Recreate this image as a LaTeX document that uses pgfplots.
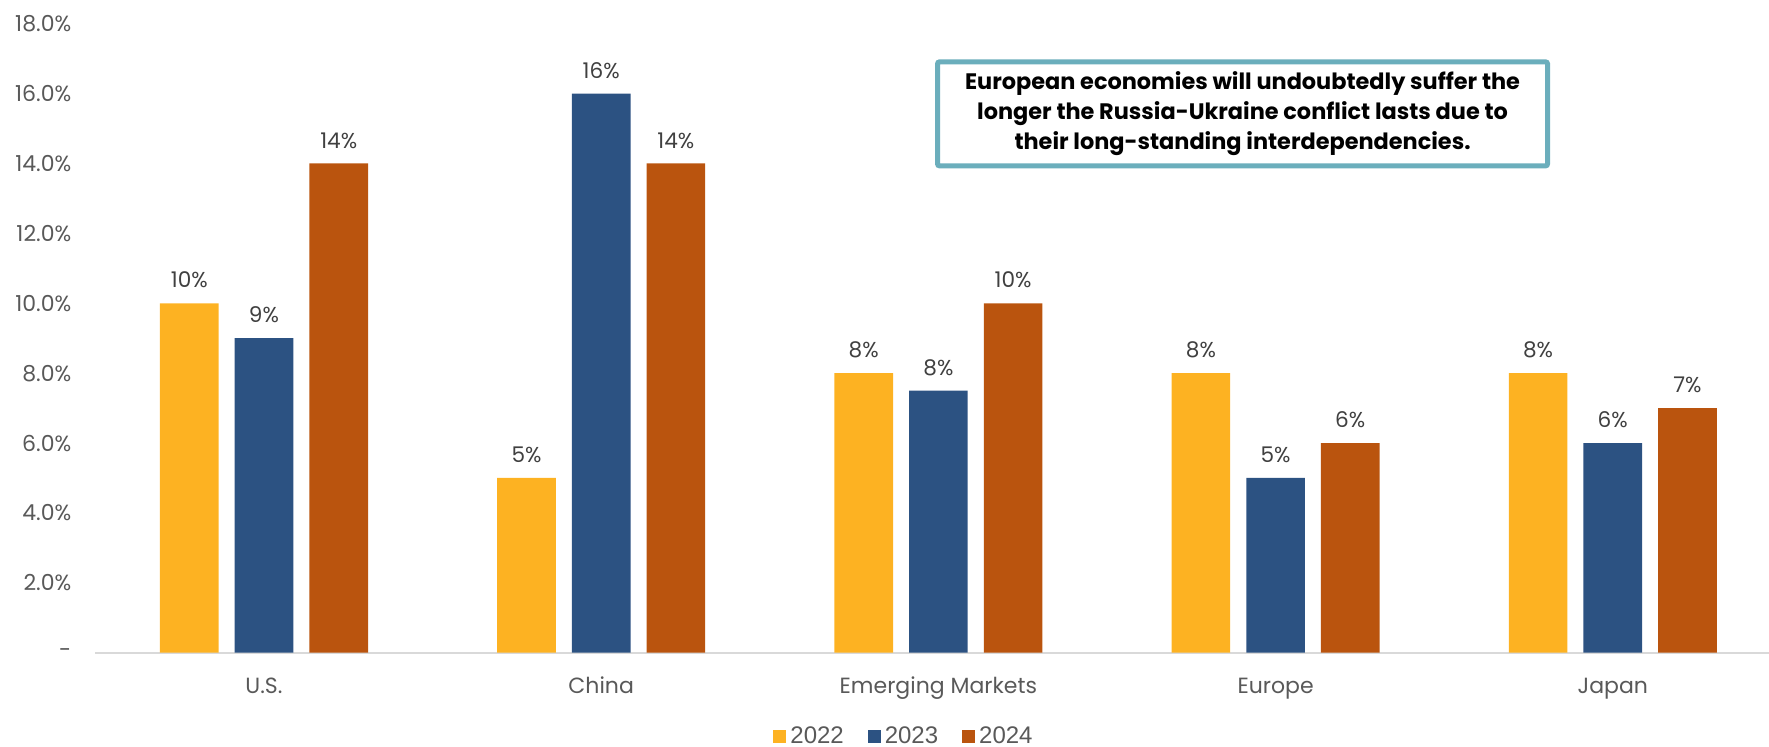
\documentclass[border=0pt]{standalone}
\usepackage{fontspec}
\setmainfont{Poppins}
\newfontfamily\lib{Liberation Sans}
\usepackage{pgfplots}
\pgfplotsset{compat=1.18}
\definecolor{cY}{RGB}{253,178,34}
\definecolor{cB}{RGB}{44,82,130}
\definecolor{cO}{RGB}{186,84,14}
\definecolor{tg}{RGB}{89,89,89}
\definecolor{lg}{RGB}{64,64,64}
\definecolor{bx}{RGB}{107,174,188}
\definecolor{ax}{RGB}{217,217,217}
\pgfplotsset{
  sq/.style={legend image code/.code={\fill[##1] (0pt,-3.25pt) rectangle (6.5pt,3.25pt);}},
  barlab/.style={point meta=explicit symbolic, nodes near coords={\pgfplotspointmeta\%},
    every node near coord/.append style={font=\fontsize{10.8pt}{12pt}\selectfont, text=lg, yshift=4pt, xshift=#1}},
}
\begin{document}
\begin{tikzpicture}
\useasboundingbox (-47.7pt,-46.65pt) rectangle (836.8pt,326.35pt);
\begin{axis}[
  at={(0pt,0pt)}, anchor=south west, scale only axis,
  width=843pt, height=314.5pt,
  xmin=-0.5, xmax=4.5, ymin=0, ymax=18,
  axis line style={draw=none},
  tick style={draw=none}, major tick length=0pt,
  xtick={0,1,2,3,4},
  xticklabels={U.S.,China,Emerging Markets,Europe,Japan},
  ytick={0,2,4,6,8,10,12,14,16,18},
  yticklabels={-,2.0\%,4.0\%,6.0\%,8.0\%,10.0\%,12.0\%,14.0\%,16.0\%,18.0\%},
  tick label style={font=\fontsize{11pt}{13pt}\selectfont, text=tg},
  yticklabel style={anchor=east, inner sep=0pt, xshift=-11.85pt},
  xticklabel style={anchor=base, inner sep=0pt, yshift=-20.2pt},
  legend style={at={(0.4802,-0.1332)}, anchor=center, draw=none, fill=none,
    legend columns=-1, font=\lib\fontsize{12pt}{14pt}\selectfont, text=tg,
    /tikz/every even column/.append style={column sep=10pt}},
  clip=false,
]
\draw[ax, line width=1pt] (axis cs:-0.5,0) -- (axis cs:4.5,0);
\addplot[ybar, fill=cY, draw=none, bar width=0.174, bar shift=-0.2215, sq, barlab=-37.35pt]
  coordinates {(0,10) [10] (1,5) [5] (2,8) [8] (3,8) [8] (4,8) [8]};
\addlegendentry{2022}
\addplot[ybar, fill=cB, draw=none, bar width=0.174, bar shift=0, sq, barlab=0pt]
  coordinates {(0,9) [9] (1,16) [16] (2,7.5) [8] (3,5) [5] (4,6) [6]};
\addlegendentry{2023}
\addplot[ybar, fill=cO, draw=none, bar width=0.174, bar shift=0.2215, sq, barlab=37.35pt]
  coordinates {(0,14) [14] (1,14) [14] (2,10) [10] (3,6) [6] (4,7) [7]};
\addlegendentry{2024}
\node[draw=bx, line width=2.5pt, fill=white, minimum width=305pt, minimum height=52pt,
  align=center, inner sep=0pt, rounded corners=1pt,
  font=\bfseries\fontsize{11.2pt}{15pt}\selectfont]
  at (axis cs:2.902,15.42) {European economies will undoubtedly suffer the\\
  longer the Russia-Ukraine conflict lasts due to\\
  their long-standing interdependencies.};
\end{axis}
\end{tikzpicture}
\end{document}
